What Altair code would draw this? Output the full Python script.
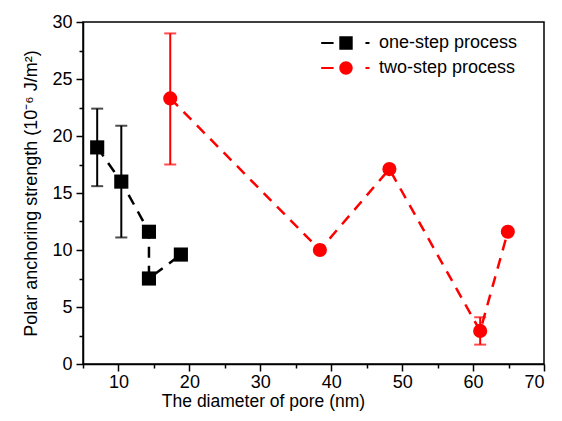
import altair as alt
import pandas as pd

# ---- data ----
one_x = [7.0, 10.4, 14.3, 14.3, 18.8]
one_y = [19.0, 16.0, 11.6, 7.5, 9.6]
one_lo = [15.6, 11.1, None, None, None]
one_hi = [22.4, 20.9, None, None, None]

two_x = [17.3, 38.4, 48.2, 61.0, 64.9]
two_y = [23.3, 10.0, 17.1, 2.9, 11.6]
two_lo = [17.5, None, None, 1.7, None]
two_hi = [29.0, None, None, 4.1, None]

series_names = ["one-step process", "two-step process"]
series_colors = ["#000000", "#ff0000"]

x_major = [10, 20, 30, 40, 50, 60, 70]
x_minor = [5, 15, 25, 35, 45, 55, 65]
y_major = [0, 5, 10, 15, 20, 25, 30]
y_minor = [2.5, 7.5, 12.5, 17.5, 22.5, 27.5]

FONT = "Liberation Sans"


def frame(xs, ys, lo, hi, name):
    return pd.DataFrame({"x": xs, "y": ys, "lo": lo, "hi": hi,
                         "series": name, "idx": list(range(len(xs)))})


df1 = frame(one_x, one_y, one_lo, one_hi, series_names[0])
df2 = frame(two_x, two_y, two_lo, two_hi, series_names[1])

xscale = alt.Scale(domain=[5, 70], nice=False, zero=False)
yscale = alt.Scale(domain=[0, 30], nice=False)

major_x_axis = alt.Axis(values=x_major, title="The diameter of pore (nm)", tickSize=7,
                        labelPadding=2, titleX=180, titlePadding=1, titleFontSize=17.5,
                        grid=False)
major_y_axis = alt.Axis(values=y_major, title="Polar anchoring strength (10⁻⁶ J/m²)",
                        tickSize=7, labelPadding=4, titlePadding=11, grid=False)
minor_x_axis = alt.Axis(values=x_minor, labels=False, title=None, tickSize=4,
                        domain=False, orient="bottom", grid=False)
minor_y_axis = alt.Axis(values=y_minor, labels=False, title=None, tickSize=4,
                        domain=False, orient="left", grid=False)


def series_layers(df, color, shape, first=False):
    xa = major_x_axis if first else None
    ya = major_y_axis if first else None
    line = alt.Chart(df).mark_line(strokeDash=[11, 8], strokeWidth=2.5, color=color).encode(
        x=alt.X("x:Q", scale=xscale, axis=xa),
        y=alt.Y("y:Q", scale=yscale, axis=ya),
        order="idx:Q",
    )
    err = df.dropna(subset=["lo"])
    rules = alt.Chart(err).mark_rule(strokeWidth=2, color=color).encode(
        x=alt.X("x:Q", scale=xscale, axis=None),
        y=alt.Y("lo:Q", scale=yscale, axis=None),
        y2="hi:Q",
    )
    cap_lo = alt.Chart(err).mark_tick(orient="horizontal", size=12, thickness=2, color=color).encode(
        x=alt.X("x:Q", scale=xscale, axis=None),
        y=alt.Y("lo:Q", scale=yscale, axis=None),
    )
    cap_hi = alt.Chart(err).mark_tick(orient="horizontal", size=12, thickness=2, color=color).encode(
        x=alt.X("x:Q", scale=xscale, axis=None),
        y=alt.Y("hi:Q", scale=yscale, axis=None),
    )
    pts = alt.Chart(df).mark_point(shape=shape, filled=True, size=200, opacity=1,
                                   color=color, strokeWidth=0).encode(
        x=alt.X("x:Q", scale=xscale, axis=None),
        y=alt.Y("y:Q", scale=yscale, axis=None),
    )
    return [line, rules, cap_lo, cap_hi, pts]


layers = series_layers(df1, series_colors[0], "square", first=True) + \
    series_layers(df2, series_colors[1], "circle")

# minor tick axes
minor = alt.Chart(df1).mark_point(opacity=0).encode(
    x=alt.X("x:Q", scale=xscale, axis=minor_x_axis),
    y=alt.Y("y:Q", scale=yscale, axis=minor_y_axis),
)

# legend layer (symbols: dash - marker - dash)
sq_path = ("M-3.7,-0.16H-1.85V0.16H-3.7Z M-1,-1H1V1H-1Z M2.9,-0.16H3.5V0.16H2.9Z")
ci_path = ("M-3.7,-0.16H-1.85V0.16H-3.7Z M-1,0A1,1 0 1,1 1,0A1,1 0 1,1 -1,0Z "
           "M2.9,-0.16H3.5V0.16H2.9Z")
leg_df = pd.DataFrame({"x": [one_x[0], two_x[0]], "y": [one_y[0], two_y[0]],
                       "series": series_names})
leg = alt.Legend(title=None, orient="none", legendX=254, legendY=12,
                 symbolOpacity=1, symbolSize=180, symbolStrokeWidth=0,
                 labelOffset=24, rowPadding=7, padding=0,
                 labelFont=FONT, labelFontSize=18, labelColor="#000")
legend_layer = alt.Chart(leg_df).mark_point(filled=True, opacity=0, size=180).encode(
    x=alt.X("x:Q", scale=xscale, axis=None),
    y=alt.Y("y:Q", scale=yscale, axis=None),
    color=alt.Color("series:N", scale=alt.Scale(domain=series_names, range=series_colors),
                    legend=leg),
    shape=alt.Shape("series:N", scale=alt.Scale(domain=series_names, range=[sq_path, ci_path]),
                    legend=leg),
)

chart = alt.layer(*layers, minor, legend_layer).resolve_axis(
    x="independent", y="independent"
).properties(
    width=461, height=342,
    autosize=alt.AutoSizeParams(type="none"),
    padding={"left": 75, "top": 14, "right": 10, "bottom": 49},
).configure_view(
    stroke="#000", strokeWidth=1.5
).configure_axis(
    domainColor="#000", domainWidth=1.5, tickColor="#000", tickWidth=1.5,
    labelFont=FONT, labelFontSize=18, labelColor="#000",
    titleFont=FONT, titleFontSize=18, titleColor="#000", titleFontWeight="normal",
)

chart.save("out.html", embed_options={"renderer": "svg", "actions": False})
